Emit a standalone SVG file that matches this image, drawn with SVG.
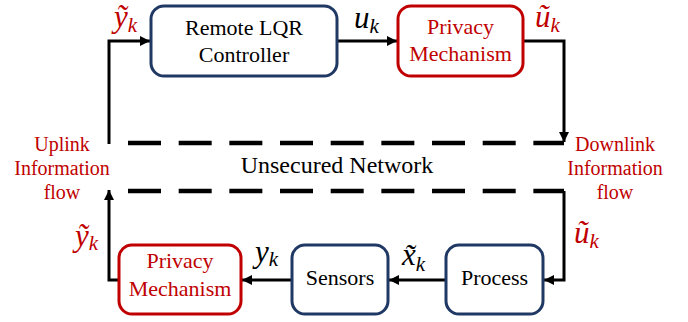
<svg xmlns="http://www.w3.org/2000/svg" width="688" height="322" viewBox="0 0 688 322">
<style>
text{font-family:"Liberation Serif","Times New Roman",serif}
.blue{fill:#fff;stroke:#1F3864;stroke-width:3}
.red{fill:#fff;stroke:#C00000;stroke-width:3}
.t{font-size:22px;text-anchor:middle;fill:#000}
.tr{font-size:22px;text-anchor:middle;fill:#C00000}
.lab{font-size:20px;text-anchor:middle;fill:#C00000}
.net{font-size:24px;text-anchor:middle;fill:#000}
.m{font-style:italic;font-size:31px}
.s{font-size:21px}
.k{fill:#000}
.rk{fill:#C00000}
.ln{fill:none;stroke:#000;stroke-width:3}
.dash{fill:none;stroke:#000;stroke-width:4.5;stroke-dasharray:33 17.67}
</style>
<defs>
<marker id="ah" viewBox="0 0 10 10" refX="10" refY="5" markerWidth="10" markerHeight="10" markerUnits="userSpaceOnUse" orient="auto">
<path d="M0,0 L10,5 L0,10 z" fill="#000"/>
</marker>
</defs>
<g id="connectors">
<polyline class="ln" points="109,144 109,41 150,41" marker-end="url(#ah)"/>
<line class="ln" x1="337" y1="41" x2="397" y2="41" marker-end="url(#ah)"/>
<polyline class="ln" points="523,41 564,41 564,142" marker-end="url(#ah)"/>
<polyline class="ln" points="564,191 564,280 544,280" marker-end="url(#ah)"/>
<line class="ln" x1="446" y1="280" x2="389" y2="280" marker-end="url(#ah)"/>
<line class="ln" x1="292" y1="280" x2="242" y2="280" marker-end="url(#ah)"/>
<polyline class="ln" points="119,280 109,280 109,190" marker-end="url(#ah)"/>
</g>
<g id="network">
<line class="dash" x1="128" y1="143" x2="564" y2="143"/>
<line class="dash" x1="128" y1="191" x2="564" y2="191"/>
<text class="net" x="337" y="173">Unsecured Network</text>
</g>
<g id="controller">
<rect class="blue" x="151" y="6" width="186" height="70" rx="13"/>
<text class="t" x="244" y="35">Remote LQR</text>
<text class="t" x="244" y="62">Controller</text>
</g>
<g id="privacy-top">
<rect class="red" x="398" y="6" width="125" height="70" rx="13"/>
<text class="tr" x="460.5" y="34">Privacy</text>
<text class="tr" x="460.5" y="61">Mechanism</text>
</g>
<g id="process">
<rect class="blue" x="446" y="245" width="97" height="69" rx="13"/>
<text class="t" x="494.5" y="285">Process</text>
</g>
<g id="sensors">
<rect class="blue" x="292" y="245" width="96" height="69" rx="13"/>
<text class="t" x="340" y="285">Sensors</text>
</g>
<g id="privacy-bottom">
<rect class="red" x="119" y="245" width="122" height="69" rx="13"/>
<text class="tr" x="180" y="268">Privacy</text>
<text class="tr" x="180" y="296">Mechanism</text>
</g>
<g id="uplink">
<text class="lab" x="62" y="151">Uplink</text>
<text class="lab" x="62" y="175">Information</text>
<text class="lab" x="62" y="199">flow</text>
</g>
<g id="downlink">
<text class="lab" x="615" y="151">Downlink</text>
<text class="lab" x="615" y="175">Information</text>
<text class="lab" x="615" y="199">flow</text>
</g>
<g id="labels">
<text class="m rk" x="114" y="27">ỹ<tspan class="s" dy="5">k</tspan></text>
<text class="m k" x="354" y="28">u<tspan class="s" dy="5">k</tspan></text>
<text class="m rk" x="535" y="27">ũ<tspan class="s" dy="5">k</tspan></text>
<text class="m rk" x="574" y="243">ũ<tspan class="s" dy="5">k</tspan></text>
<text class="m k" x="402" y="265">x̃<tspan class="s" dy="6">k</tspan></text>
<text class="m k" x="255" y="262">y<tspan class="s" dy="4">k</tspan></text>
<text class="m rk" x="75" y="246">ỹ<tspan class="s" dy="4">k</tspan></text>
</g>
</svg>
